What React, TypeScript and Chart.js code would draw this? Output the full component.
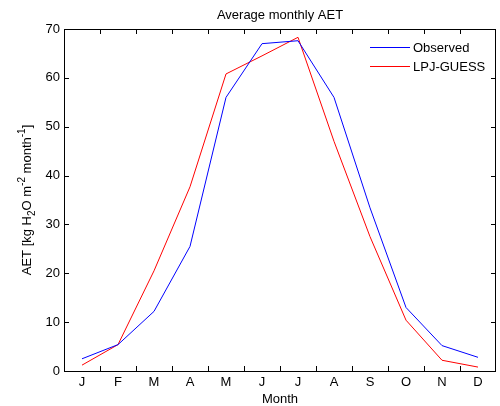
import React, { useEffect, useRef } from "react";
import { Chart, registerables } from "chart.js";

Chart.register(...registerables);

const months = ["J", "F", "M", "A", "M", "J", "J", "A", "S", "O", "N", "D"];
const observed = [2.5, 5.4, 12.2, 25.5, 56, 67, 67.6, 56, 33.4, 13, 5.2, 2.8];
const lpjGuess = [1.2, 5.4, 20.5, 37.7, 60.8, 64.5, 68.3, 47, 27.5, 10.4, 2.2, 0.8];
const yTicks = [0, 10, 20, 30, 40, 50, 60, 70];
const titleText = "Average monthly AET";
const xTitle = "Month";
const seriesNames = ["Observed", "LPJ-GUESS"];

const FONT = "'Liberation Sans', Arial, sans-serif";

const decorPlugin = {
  id: "decor",
  afterDraw(chart: any) {
    const ctx = chart.ctx;
    const { left, right, top, bottom } = chart.chartArea;
    const xs = chart.scales.x;
    const ys = chart.scales.y;
    ctx.save();
    ctx.strokeStyle = "#000";
    ctx.lineWidth = 1;
    // box
    ctx.strokeRect(Math.round(left) + 0.5, Math.round(top) + 0.5, Math.round(right - left) - 1, Math.round(bottom - top));
    // inward ticks
    ctx.beginPath();
    for (let i = 0; i < months.length - 1; i++) {
      const x = Math.round(xs.getPixelForValue(i + 0.5)) + 0.5;
      ctx.moveTo(x, bottom);
      ctx.lineTo(x, bottom - 5);
      ctx.moveTo(x, top);
      ctx.lineTo(x, top + 5);
    }
    for (const v of yTicks) {
      if (v === 0 || v === 70) continue;
      const y = Math.round(ys.getPixelForValue(v)) + 0.5;
      ctx.moveTo(left, y);
      ctx.lineTo(left + 5, y);
      ctx.moveTo(right, y);
      ctx.lineTo(right - 5, y);
    }
    ctx.stroke();

    ctx.fillStyle = "#000";
    // title
    ctx.font = `13px ${FONT}`;
    ctx.textAlign = "center";
    ctx.textBaseline = "middle";
    ctx.fillText(titleText, (left + right) / 2, 15);
    // x title
    ctx.fillText(xTitle, (left + right) / 2, 399);

    // legend
    const colors = ["#0000ff", "#ff0000"];
    const ly = [47.5, 66.5];
    ctx.textAlign = "left";
    for (let i = 0; i < 2; i++) {
      ctx.strokeStyle = colors[i];
      ctx.beginPath();
      ctx.moveTo(370, ly[i]);
      ctx.lineTo(410, ly[i]);
      ctx.stroke();
      ctx.fillText(seriesNames[i], 413, ly[i] + 0.5);
    }

    // y title with sub/superscripts
    const segs: [string, number][] = [
      ["AET [kg H", 0],
      ["2", 1],
      ["O m", 0],
      ["-2", -1],
      [" month", 0],
      ["-1", -1],
      ["]", 0],
    ];
    const big = `13px ${FONT}`;
    const small = `10px ${FONT}`;
    let total = 0;
    for (const [t, k] of segs) {
      ctx.font = k === 0 ? big : small;
      total += ctx.measureText(t).width;
    }
    ctx.translate(31, (top + bottom) / 2);
    ctx.rotate(-Math.PI / 2);
    ctx.textBaseline = "alphabetic";
    let x = -total / 2;
    for (const [t, k] of segs) {
      ctx.font = k === 0 ? big : small;
      const dy = k === 1 ? 4 : k === -1 ? -6 : 0;
      ctx.fillText(t, x, dy);
      x += ctx.measureText(t).width;
    }
    ctx.restore();
  },
};

export default function App() {
  const ref = useRef<HTMLCanvasElement | null>(null);
  useEffect(() => {
    document.body.style.margin = "0";
    const chart = new Chart(ref.current as HTMLCanvasElement, {
      type: "line",
      data: {
        labels: months,
        datasets: [
          {
            label: seriesNames[0],
            data: observed,
            borderColor: "#0000ff",
            borderWidth: 1,
            pointRadius: 0,
            tension: 0,
            fill: false,
          },
          {
            label: seriesNames[1],
            data: lpjGuess,
            borderColor: "#ff0000",
            borderWidth: 1,
            pointRadius: 0,
            tension: 0,
            fill: false,
          },
        ],
      },
      options: {
        animation: false,
        responsive: false,
        layout: { padding: { top: 29, right: 4, left: 0, bottom: 0 } },
        plugins: {
          legend: { display: false },
          title: { display: false },
          tooltip: { enabled: false },
        },
        scales: {
          x: {
            type: "category",
            offset: true,
            grid: { display: false, drawTicks: false },
            border: { display: false },
            ticks: {
              color: "#000",
              font: { family: FONT, size: 13 },
              padding: 4,
              maxRotation: 0,
              autoSkip: false,
            },
            afterFit: (s: any) => {
              s.height = 35;
            },
          },
          y: {
            min: 0,
            max: 70,
            grid: { display: false, drawTicks: false },
            border: { display: false },
            ticks: {
              stepSize: 10,
              color: "#000",
              font: { family: FONT, size: 13 },
              padding: 4,
            },
            afterFit: (s: any) => {
              s.width = 64;
            },
          },
        },
      },
      plugins: [decorPlugin],
    });
    return () => chart.destroy();
  }, []);
  return (
    <div style={{ position: "absolute", left: 0, top: 0, width: 500, height: 406, background: "#fff" }}>
      <canvas ref={ref} width={500} height={406} style={{ width: 500, height: 406, display: "block" }} />
    </div>
  );
}
